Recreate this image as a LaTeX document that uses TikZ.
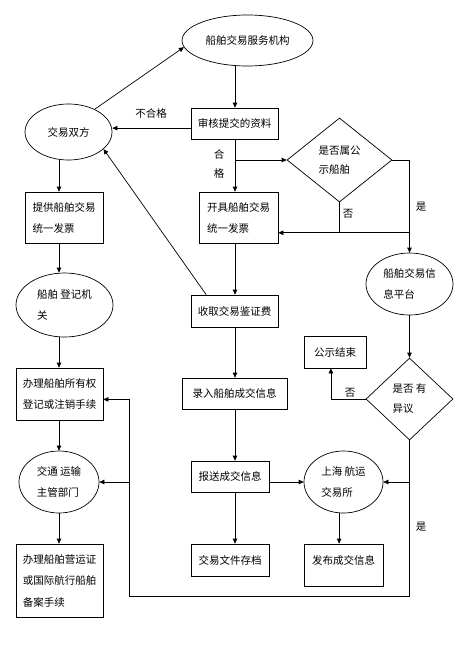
\documentclass[tikz,border=0pt]{standalone}
\usepackage{fontspec}
\newfontfamily\cjk{Noto Sans CJK SC}
\usetikzlibrary{shapes.geometric,arrows.meta}
\begin{document}
\begin{tikzpicture}[x=1pt, y=-1pt, line width=0.7pt,
  >={Triangle[length=5pt,width=4.5pt]},
  every node/.style={font=\cjk\fontsize{10.5}{21}\selectfont, inner sep=0pt, align=left},
  box/.style={draw, rectangle},
  oval/.style={draw, ellipse},
  decide/.style={draw, diamond}]
  \useasboundingbox (0,0) rectangle (474,645);

  % nodes
  \node[oval, minimum width=131pt, minimum height=51pt] (jigou) at (247.5,40.5) {船舶交易服务机构};
  \node[oval, minimum width=87pt, minimum height=56pt] (jysf) at (68.5,132) {交易双方};
  \node[box, minimum width=87pt, minimum height=31pt] (shenhe) at (234.5,123.5) {审核提交的资料};
  \node[decide, minimum width=105pt, minimum height=84pt, font=\cjk\fontsize{10.5}{19}\selectfont] (gsdiam) at (339.5,160) {是否属公\\示船舶};
  \node[box, minimum width=79pt, minimum height=51pt] (kaiju) at (238.5,217.5) {开具船舶交易\\统一发票};
  \node[box, minimum width=78pt, minimum height=51pt] (tigong) at (64,217.5) {提供船舶交易\\统一发票};
  \node[oval, minimum width=97pt, minimum height=64pt] (djjg) at (64.5,305) {船舶 登记机\\关};
  \node[box, minimum width=87pt, minimum height=32pt] (shouqu) at (234.5,311) {收取交易鉴证费};
  \node[oval, minimum width=87pt, minimum height=62pt] (xxpt) at (409.5,284) {船舶交易信\\息平台};
  \node[decide, minimum width=87pt, minimum height=82pt, font=\cjk\fontsize{10.5}{20}\selectfont] (yiyi) at (409.5,399) {是否 有\\异议};
  \node[box, minimum width=62pt, minimum height=32pt] (gsjs) at (335,352) {公示结束};
  \node[box, minimum width=87pt, minimum height=52pt] (suoyou) at (59.5,394) {办理船舶所有权\\登记或注销手续};
  \node[box, minimum width=105pt, minimum height=31pt] (luru) at (234.5,393.5) {录入船舶成交信息};
  \node[oval, minimum width=80pt, minimum height=62pt] (jtbm) at (59,482) {交通 运输\\主管部门};
  \node[box, minimum width=78pt, minimum height=31pt] (baosong) at (230,476.5) {报送成交信息};
  \node[oval, minimum width=79pt, minimum height=62pt] (shjs) at (343.5,482) {上海 航运\\交易所};
  \node[box, minimum width=87pt, minimum height=73pt, font=\cjk\fontsize{10.5}{21.5}\selectfont] (yyz) at (59.5,580.5) {办理船舶营运证\\或国际航行船舶\\备案手续};
  \node[box, minimum width=78pt, minimum height=32pt] (cundang) at (230,560) {交易文件存档};
  \node[box, minimum width=79pt, minimum height=42pt, text depth=10pt] (fabu) at (343.5,565) {发布成交信息};

  % labels
  \node (bhg) at (151,113) {不合格};
  \node[align=center, font=\cjk\fontsize{10.5}{19}\selectfont] (hege) at (219,163.5) {合\\格};
  \node (shi1) at (421,207) {是};
  \node (fou1) at (348,214) {否};
  \node (fou2) at (350,393) {否};
  \node (shi2) at (421,527) {是};

  % columns and loop corners
  \coordinate (lc) at (59,0);
  \coordinate (mid) at (235,0);
  \coordinate (lp) at (129,596);
  \coordinate (rp) at (409.5,596);

  % connectors
  \draw[->] (jysf.41) -- (jigou.186);
  \draw[->] (jigou.south -| mid) -- (shenhe.north -| mid);
  \draw[->] (shenhe.186) -- (shenhe.186 -| jysf.east);
  \draw[->] (shenhe.south -| mid) -- (kaiju.north -| mid);
  \draw[->] (gsdiam.west -| mid) -- (gsdiam.west);
  \draw[->] (gsdiam.east) -| (xxpt.north);
  \draw[->] (gsdiam.south) |- (kaiju.-21.4);
  \draw (gsdiam.south |- kaiju.-21.4) -- (xxpt.north |- kaiju.-21.4);
  \draw[->] (kaiju.south -| mid) -- (shouqu.north -| mid);
  \draw[->] (shouqu.150) -- (jysf.-26);
  \draw[->] (shouqu.south -| mid) -- (luru.north -| mid);
  \draw[->] (luru.south -| mid) -- (baosong.north -| mid);
  \draw[->] (baosong.south -| mid) -- (cundang.north -| mid);
  \draw[->] (baosong.east |- shjs.west) -- (shjs.west);
  \draw[->] (shjs.-98) -- (shjs.-98 |- fabu.north);

  \draw[->] (jysf.south -| lc) -- (tigong.north -| lc);
  \draw[->] (tigong.south -| lc) -- (djjg.north -| lc);
  \draw[->] (djjg.south -| lc) -- (suoyou.north -| lc);
  \draw[->] (suoyou.south -| lc) -- (jtbm.north -| lc);
  \draw[->] (jtbm.south -| lc) -- (yyz.north -| lc);

  \draw[->] (xxpt.south) -- (yiyi.north);
  \draw[->] (yiyi.west) -| (gsjs.-104);
  \draw[->] (yiyi.south) -- (rp) -- (lp) |- (suoyou.-7);
  \draw[->] (rp |- shjs.east) -- (shjs.east);
  \draw[->] (lp |- jtbm.east) -- (jtbm.east);
\end{tikzpicture}
\end{document}
